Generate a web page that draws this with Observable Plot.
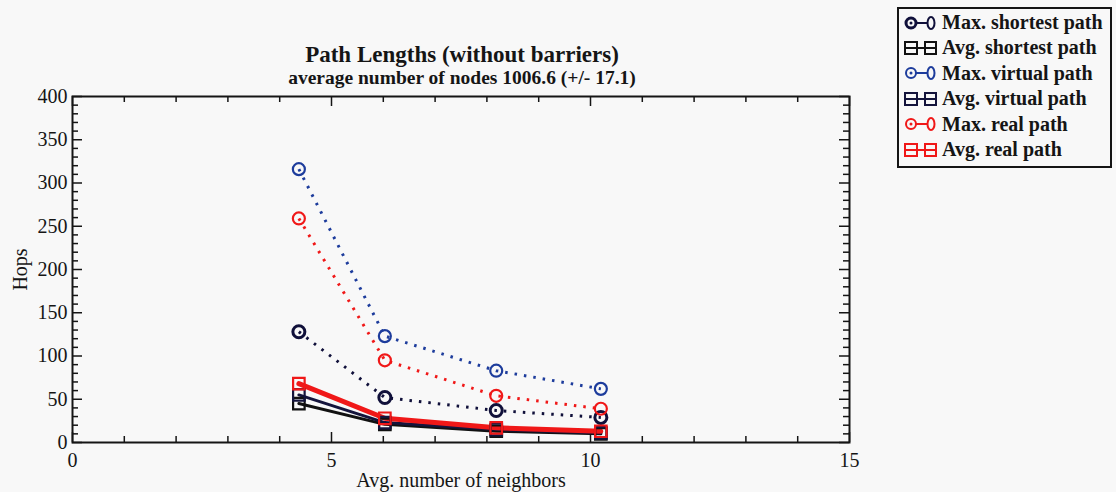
<!DOCTYPE html>
<html>
<head>
<meta charset="utf-8">
<script src="https://cdn.jsdelivr.net/npm/d3@7"></script>
<script src="https://cdn.jsdelivr.net/npm/@observablehq/plot@0.6"></script>
<style>
  html, body { margin: 0; padding: 0; background: #f8f8f8; }
  #wrap { position: relative; width: 1116px; height: 492px; overflow: hidden; font-family: "Liberation Serif", "DejaVu Serif", serif; color: #151515; }
  .title { position: absolute; left: 0; width: 924px; text-align: center; white-space: nowrap; font-weight: bold; }
  #t1 { top: 43px; font-size: 23px; line-height: 23px; }
  #t2 { top: 68px; font-size: 19.5px; line-height: 19.5px; }
  #legend { position: absolute; left: 897px; top: 7px; width: 211px; height: 156px; border: 2px solid #151515; background: #f8f8f8; padding-top: 1px; }
  .row { height: 25.4px; line-height: 25.4px; font-size: 20px; font-weight: bold; white-space: nowrap; display: flex; align-items: center; }
  .row svg { flex: none; margin-left: 4px; margin-right: 5px; }
  #chart { position: absolute; left: 0; top: 0; }
</style>
</head>
<body>
<div id="wrap">
  <div id="chart"></div>
  <div class="title" id="t1"></div>
  <div class="title" id="t2"></div>
  <div id="legend"></div>
</div>
<script>
// Path length statistics versus average neighbourhood size
const titleText = "Path Lengths (without barriers)";
const subtitleText = "average number of nodes 1006.6 (+/- 17.1)";
const xLabel = "Avg. number of neighbors";
const yLabel = "Hops";

const neighbors   = [4.37, 6.03, 8.18, 10.2];
const maxShortest = [128, 52, 37, 29];
const avgShortest = [45, 21, 13, 10];
const maxVirtual  = [316, 123, 83, 62];
const avgVirtual  = [55, 23, 15, 11];
const maxReal     = [259, 95, 54, 39];
const avgReal     = [68, 28, 17, 13];

const seriesNames = ["Max. shortest path", "Avg. shortest path", "Max. virtual path", "Avg. virtual path", "Max. real path", "Avg. real path"];
const seriesValues = [maxShortest, avgShortest, maxVirtual, avgVirtual, maxReal, avgReal];
const seriesColors = ["#10103a", "#111111", "#1d3c9c", "#14143c", "#f01818", "#f01818"];

const xTicks = [0, 5, 10, 15];
const yTicks = [0, 50, 100, 150, 200, 250, 300, 350, 400];
const xMinor = d3.range(0, 16).filter(v => v % 5 !== 0);
const yMinor = d3.range(0, 401, 10).filter(v => v % 50 !== 0);

// long-format rows built from the series arrays
const rows = seriesNames.flatMap((name, i) =>
  neighbors.map((x, j) => ({series: name, x, y: seriesValues[i][j]}))
);

const W = 1116, H = 492, mL = 72, mR = 267, mT = 96, mB = 50;
const fw = W - mL - mR, fh = H - mT - mB;
const ink = "#151515";

const lineMarks = seriesNames.map((name, i) => {
  const data = rows.filter(r => r.series === name);
  if (name.startsWith("Max")) {
    return Plot.line(data, {x: "x", y: "y", stroke: seriesColors[i], strokeWidth: 3, strokeDasharray: "2.5 7", strokeLinecap: "butt"});
  }
  return Plot.line(data, {x: "x", y: "y", stroke: seriesColors[i], strokeWidth: name.includes("real") ? 5 : 3});
});

const symbolMarks = seriesNames.map((name, i) => {
  const data = rows.filter(r => r.series === name);
  if (name.startsWith("Max")) {
    return Plot.dot(data, {x: "x", y: "y", r: 6, stroke: seriesColors[i], strokeWidth: name.includes("shortest") ? 3 : 2.2, fill: "none"});
  }
  return Plot.dot(data, {x: "x", y: "y", symbol: "square", r: 6.5, stroke: seriesColors[i], strokeWidth: 2.2, fill: "none"});
});

const chart = Plot.plot({
  width: W, height: H,
  marginLeft: mL, marginRight: mR, marginTop: mT, marginBottom: mB,
  style: {background: "transparent", fontFamily: "Liberation Serif, serif", fontSize: "20px", color: ink, overflow: "visible"},
  x: {domain: [0, 15]},
  y: {domain: [0, 400]},
  marks: [
    // inward tick marks on all four sides
    Plot.tickY(yTicks, {y: d => d, insetRight: fw - 10, stroke: ink, strokeWidth: 1.5}),
    Plot.tickY(yMinor, {y: d => d, insetRight: fw - 6, stroke: ink, strokeWidth: 1.5}),
    Plot.tickY(yTicks, {y: d => d, insetLeft: fw - 10, stroke: ink, strokeWidth: 1.5}),
    Plot.tickY(yMinor, {y: d => d, insetLeft: fw - 6, stroke: ink, strokeWidth: 1.5}),
    Plot.tickX(xTicks, {x: d => d, insetTop: fh - 10, stroke: ink, strokeWidth: 1.5}),
    Plot.tickX(xMinor, {x: d => d, insetTop: fh - 6, stroke: ink, strokeWidth: 1.5}),
    Plot.tickX(xTicks, {x: d => d, insetBottom: fh - 10, stroke: ink, strokeWidth: 1.5}),
    Plot.tickX(xMinor, {x: d => d, insetBottom: fh - 6, stroke: ink, strokeWidth: 1.5}),
    Plot.frame({stroke: ink, strokeWidth: 2}),
    Plot.axisX({ticks: xTicks, tickSize: 0, tickPadding: 10, tickFormat: d3.format("d"), label: xLabel, labelArrow: "none", labelAnchor: "center", labelOffset: 44}),
    Plot.axisY({ticks: yTicks, tickSize: 0, tickPadding: 5, tickFormat: d3.format("d"), label: yLabel, labelArrow: "none", labelAnchor: "center", labelOffset: 60}),
    ...lineMarks,
    ...symbolMarks
  ]
});
document.getElementById("chart").appendChild(chart);

document.getElementById("t1").textContent = titleText;
document.getElementById("t2").textContent = subtitleText;

// legend: symbol, connecting line, symbol, then the series name
const legend = d3.select("#legend");
seriesNames.forEach((name, i) => {
  const row = legend.append("div").attr("class", "row");
  const svg = row.append("svg").attr("width", 34).attr("height", 16);
  const c = seriesColors[i];
  svg.append("line").attr("x1", 8).attr("x2", 27).attr("y1", 8).attr("y2", 8).attr("stroke", c).attr("stroke-width", 2);
  if (name.startsWith("Max")) {
    svg.append("circle").attr("cx", 8).attr("cy", 8).attr("r", 5).attr("fill", "#f8f8f8").attr("stroke", c).attr("stroke-width", name.includes("shortest") ? 3 : 2);
    svg.append("circle").attr("cx", 8).attr("cy", 8).attr("r", 1.5).attr("fill", c);
    svg.append("ellipse").attr("cx", 28).attr("cy", 8).attr("rx", 3.5).attr("ry", 6).attr("fill", "#f8f8f8").attr("stroke", c).attr("stroke-width", 2);
  } else {
    svg.append("rect").attr("x", 2).attr("y", 2).attr("width", 12).attr("height", 12).attr("fill", "#f8f8f8").attr("stroke", c).attr("stroke-width", 2);
    svg.append("rect").attr("x", 22).attr("y", 2).attr("width", 11).attr("height", 12).attr("fill", "#f8f8f8").attr("stroke", c).attr("stroke-width", 2);
    svg.append("line").attr("x1", 2).attr("x2", 33).attr("y1", 8).attr("y2", 8).attr("stroke", c).attr("stroke-width", 2);
  }
  row.append("span").text(name);
});
</script>
</body>
</html>
